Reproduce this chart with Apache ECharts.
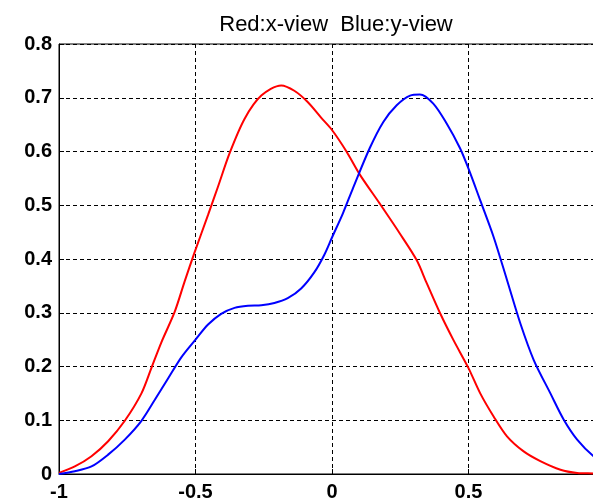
<!DOCTYPE html>
<html><head><meta charset="utf-8">
<script src="https://cdn.jsdelivr.net/npm/echarts@6/dist/echarts.min.js"></script>
<style>html,body{margin:0;padding:0;background:#fff;width:593px;height:503px;overflow:hidden}#c{width:620px;height:503px}</style>
</head><body><div id="c"></div>
<script>
var titleText = 'Red:x-view  Blue:y-view';
var xTicks = [-1, -0.5, 0, 0.5, 1];
var yTicks = [0, 0.1, 0.2, 0.3, 0.4, 0.5, 0.6, 0.7, 0.8];
var redX = [-1, -0.942, -0.881, -0.820, -0.759, -0.698, -0.661, -0.625, -0.576, -0.540, -0.505, -0.454, -0.418, -0.375, -0.320, -0.259, -0.186, -0.138, -0.089, -0.040, 0.0, 0.053, 0.102, 0.175, 0.249, 0.310, 0.347, 0.396, 0.445, 0.5, 0.543, 0.592, 0.641, 0.702, 0.763, 0.837, 0.898, 0.958, 1.0];
var redY = [0.002, 0.014, 0.033, 0.061, 0.099, 0.150, 0.198, 0.245, 0.302, 0.358, 0.410, 0.482, 0.534, 0.597, 0.661, 0.704, 0.723, 0.713, 0.692, 0.663, 0.640, 0.600, 0.557, 0.503, 0.447, 0.398, 0.355, 0.299, 0.249, 0.197, 0.150, 0.107, 0.070, 0.042, 0.024, 0.008, 0.002, 0.001, 0.0];
var blueX = [-1, -0.942, -0.881, -0.820, -0.759, -0.698, -0.649, -0.600, -0.552, -0.5, -0.454, -0.406, -0.357, -0.308, -0.259, -0.211, -0.162, -0.113, -0.065, -0.028, 0.0, 0.040, 0.077, 0.138, 0.188, 0.237, 0.286, 0.322, 0.371, 0.420, 0.469, 0.5, 0.543, 0.592, 0.641, 0.690, 0.739, 0.800, 0.849, 0.898, 0.958, 1.0];
var blueY = [0.0, 0.005, 0.014, 0.036, 0.064, 0.099, 0.138, 0.178, 0.217, 0.250, 0.278, 0.298, 0.309, 0.313, 0.314, 0.318, 0.327, 0.345, 0.375, 0.408, 0.440, 0.485, 0.532, 0.606, 0.655, 0.686, 0.704, 0.706, 0.689, 0.652, 0.606, 0.568, 0.509, 0.441, 0.361, 0.280, 0.212, 0.150, 0.101, 0.064, 0.033, 0.02];

function pairs(xs, ys){ return xs.map(function(x,i){ return [x, ys[i]]; }); }
var chart = echarts.init(document.getElementById('c'), null, {renderer:'canvas'});
var lbl = {color:'#000', fontFamily:'Liberation Sans, Arial, sans-serif', fontSize:20, fontWeight:'bold'};
chart.setOption({
  animation:false,
  backgroundColor:'#fff',
  title:{text:titleText, left:331, top:9, textAlign:'center',
    textStyle:{fontFamily:'Liberation Sans, Arial, sans-serif', fontSize:22, fontWeight:'normal', color:'#000'}},
  grid:{left:59, top:44, right:15, bottom:29, show:true, borderColor:'#000', borderWidth:1, backgroundColor:'transparent'},
  xAxis:{type:'value', min:xTicks[0], max:xTicks[xTicks.length-1], interval:0.5,
    axisLine:{show:true, onZero:false, lineStyle:{color:'#000', width:1}},
    axisTick:{show:true, inside:true, length:5, lineStyle:{color:'#000'}},
    axisLabel:Object.assign({margin:8, formatter:function(v){ return String(v); }}, lbl),
    splitLine:{show:true, lineStyle:{color:'#000', type:[4,3], width:1}}},
  yAxis:{type:'value', min:yTicks[0], max:yTicks[yTicks.length-1], interval:0.1,
    axisLine:{show:true, onZero:false, lineStyle:{color:'#000', width:1}},
    axisTick:{show:true, inside:true, length:5, lineStyle:{color:'#000'}},
    axisLabel:Object.assign({margin:7, formatter:function(v){ return String(Math.round(v*10)/10); }}, lbl),
    splitLine:{show:true, lineStyle:{color:'#000', type:[4,3], width:1}}},
  series:[
    {type:'line', data:pairs(redX, redY), smooth:0.3, showSymbol:false, lineStyle:{color:'#ff0000', width:2}, z:3},
    {type:'line', data:pairs(blueX, blueY), smooth:0.3, showSymbol:false, lineStyle:{color:'#0000ff', width:2}, z:4}
  ]
});
</script></body></html>
